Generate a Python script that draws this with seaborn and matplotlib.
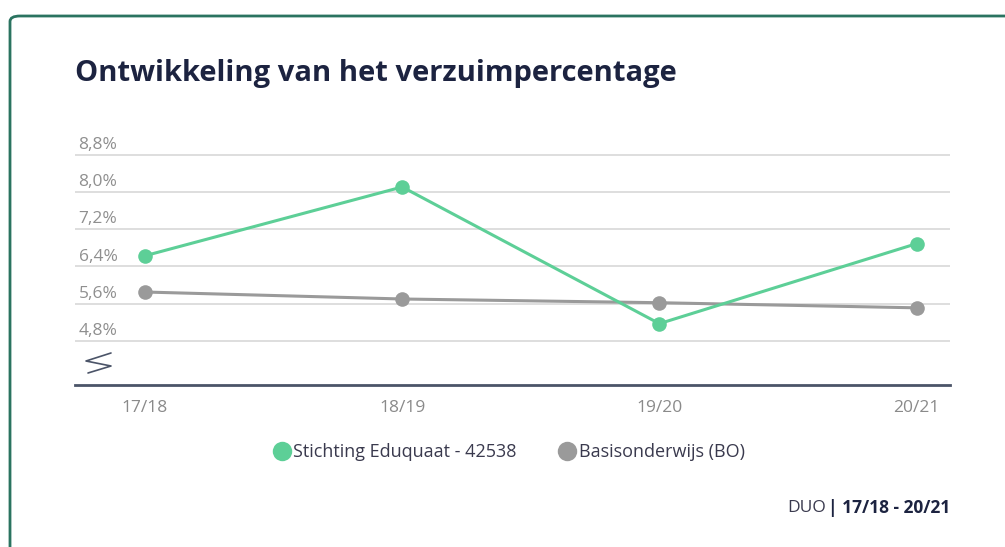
import matplotlib
matplotlib.use("Agg")
import matplotlib.pyplot as plt
import seaborn as sns
import pandas as pd
from matplotlib.lines import Line2D
from matplotlib.patches import FancyBboxPatch

# data
jaren = ["17/18", "18/19", "19/20", "20/21"]
eduquaat = [6.63, 8.11, 5.17, 6.89]
basisonderwijs = [5.85, 5.70, 5.62, 5.51]
reeksen = ["Stichting Eduquaat - 42538", "Basisonderwijs (BO)"]
y_ticks = [4.8, 5.6, 6.4, 7.2, 8.0, 8.8]

kleuren = {reeksen[0]: "#5dcf97", reeksen[1]: "#9a9a9a"}

df = pd.DataFrame({
    "jaar": jaren * 2,
    "pct": eduquaat + basisonderwijs,
    "reeks": [reeksen[0]] * 4 + [reeksen[1]] * 4,
})
df["x"] = df["jaar"].map({j: i for i, j in enumerate(jaren)})

sns.set_theme(style="white")
plt.rcParams["font.family"] = ["Open Sans", "DejaVu Sans"]

W, H = 1005, 547
fig = plt.figure(figsize=(W / 100, H / 100), dpi=100)
ax = fig.add_axes([75 / W, 1 - 385 / H, (950 - 75) / W, (385 - 140) / H])

# grey series first so green sits on top
sns.lineplot(data=df, x="x", y="pct", hue="reeks", hue_order=reeksen[::-1],
             palette=kleuren, marker="o", markersize=10.5, markeredgewidth=0,
             linewidth=2.2, legend=False, ax=ax)

ax.set_xlim(-0.272, 3.13)
ax.set_ylim(3.85, 9.12)
ax.set_xticks(range(len(jaren)))
ax.set_xticklabels(jaren)
ax.set_yticks(y_ticks)
ax.set_yticklabels([])
ax.set_xlabel("")
ax.set_ylabel("")
ax.tick_params(axis="x", length=0, pad=11, labelsize=12.5, labelcolor="#8a8a8a")
ax.tick_params(axis="y", length=0)
ax.grid(axis="y", color="#d8d8d8", linewidth=1.2)
ax.grid(axis="x", visible=False)
for s in ["top", "left", "right"]:
    ax.spines[s].set_visible(False)
ax.spines["bottom"].set_color("#4b5468")
ax.spines["bottom"].set_linewidth(2)

for t in y_ticks:
    ax.text(0.004, t + 0.04, f"{t:.1f}%".replace(".", ","),
            transform=ax.get_yaxis_transform(), ha="left", va="bottom",
            fontsize=12.5, color="#8f8f8f")

# axis break symbol
zx = [111, 86, 111, 88]
zy = [353, 361, 366, 373]
fig.add_artist(Line2D([x / W for x in zx], [1 - y / H for y in zy],
                      color="#4b5468", linewidth=1.2))

fig.text(75 / W, 1 - 74 / H, "Ontwikkeling van het verzuimpercentage",
         fontsize=21, fontweight="bold", color="#1c2340", va="center", ha="left")

# legend
handles = [Line2D([], [], marker="o", linestyle="", markersize=14,
                  markeredgewidth=0, color=kleuren[r]) for r in reeksen]
fig.legend(handles, reeksen, loc="center", bbox_to_anchor=(508 / W, 1 - 452 / H),
           ncol=2, frameon=False, fontsize=13, handletextpad=0.05,
           columnspacing=2.2, labelcolor="#3a3a4e", handlelength=1.2)

# footer
vet = fig.text(950 / W, 1 - 508 / H, "| 17/18 - 20/21", fontsize=12.5,
               fontweight="bold", color="#1c2340", ha="right", va="center")
fig.canvas.draw()
bb = vet.get_window_extent()
fig.text((bb.x0 - 2) / W, 1 - 508 / H, "DUO", fontsize=12.5, color="#3a3a4e",
         ha="right", va="center")

# rounded card border
fig.add_artist(FancyBboxPatch((10 / W, -0.1), 1.2, 1 - 16 / H + 0.1,
                              boxstyle="round,pad=0,rounding_size=0.01",
                              transform=fig.transFigure, fill=False,
                              edgecolor="#2a7360", linewidth=2))

fig.savefig("out.png", dpi=100)
